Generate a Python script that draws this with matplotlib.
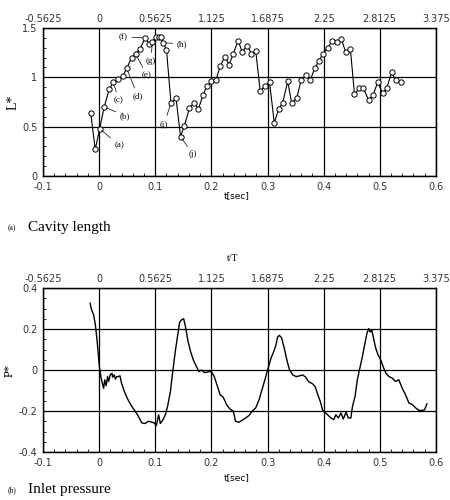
import numpy as np
import matplotlib
matplotlib.use('Agg')
import matplotlib.pyplot as plt
from matplotlib.ticker import MultipleLocator

# Cavity length L* (circles)
t_cav = [-0.015, -0.007, 0.001, 0.009, 0.018, 0.025, 0.034, 0.042, 0.049, 0.058,
         0.065, 0.073, 0.082, 0.089, 0.095, 0.101, 0.106, 0.110, 0.114, 0.120,
         0.128, 0.137, 0.145, 0.152, 0.161, 0.169, 0.177, 0.185, 0.192, 0.200,
         0.208, 0.2155, 0.224, 0.2315, 0.239, 0.2476, 0.255, 0.2637, 0.2714, 0.279,
         0.287, 0.295, 0.3036, 0.312, 0.320, 0.327, 0.336, 0.343, 0.352, 0.360,
         0.368, 0.376, 0.384, 0.392, 0.399, 0.407, 0.4155, 0.423, 0.4315, 0.439,
         0.4476, 0.455, 0.4637, 0.471, 0.480, 0.488, 0.4964, 0.505, 0.5125, 0.521,
         0.529, 0.537]
L_cav = [0.64, 0.27, 0.48, 0.70, 0.88, 0.95, 0.98, 1.01, 1.09, 1.20,
         1.24, 1.29, 1.40, 1.34, 1.36, 1.41, 1.41, 1.41, 1.35, 1.28,
         0.74, 0.79, 0.40, 0.51, 0.69, 0.74, 0.68, 0.82, 0.91, 0.96,
         0.97, 1.11, 1.21, 1.13, 1.24, 1.37, 1.26, 1.32, 1.24, 1.27,
         0.86, 0.91, 0.95, 0.54, 0.68, 0.74, 0.96, 0.74, 0.79, 0.97,
         1.02, 0.97, 1.09, 1.17, 1.24, 1.30, 1.37, 1.36, 1.39, 1.26,
         1.29, 0.83, 0.89, 0.89, 0.77, 0.82, 0.95, 0.84, 0.89, 1.05,
         0.97, 0.95]

# annotation labels: (label, index of point, text x, text y)
ann_labels = ['(a)', '(b)', '(c)', '(d)', '(e)', '(f)', '(g)', '(h)', '(i)', '(j)']
ann_index = [2, 3, 5, 8, 10, 12, 14, 18, 20, 22]
ann_tx = [0.036, 0.046, 0.035, 0.069, 0.085, 0.043, 0.092, 0.148, 0.116, 0.167]
ann_ty = [0.31, 0.61, 0.77, 0.81, 1.02, 1.41, 1.17, 1.34, 0.53, 0.22]

# Inlet pressure P*
t_p = [-0.016, -0.015, -0.013, -0.010, -0.007, -0.004, -0.001, 0.0006, 0.003, 0.005,
       0.008, 0.010, 0.0125, 0.015, 0.017, 0.0196, 0.023, 0.024, 0.027, 0.029,
       0.0315, 0.0345, 0.037, 0.040, 0.046, 0.052, 0.058, 0.064, 0.070, 0.076,
       0.082, 0.088, 0.094, 0.098, 0.102, 0.106, 0.109, 0.114, 0.118, 0.122,
       0.127, 0.1315, 0.136, 0.140, 0.1435, 0.147, 0.1506, 0.154, 0.158, 0.163,
       0.168, 0.174, 0.178, 0.182, 0.188, 0.196, 0.200, 0.205, 0.211, 0.2155,
       0.221, 0.227, 0.233, 0.239, 0.243, 0.249, 0.255, 0.261, 0.267, 0.273,
       0.279, 0.285, 0.291, 0.297, 0.301, 0.306, 0.311, 0.315, 0.318, 0.321,
       0.325, 0.330, 0.3345, 0.339, 0.345, 0.351, 0.3565, 0.3625, 0.368, 0.373,
       0.3805, 0.385, 0.389, 0.394, 0.398, 0.402, 0.407, 0.413, 0.418, 0.422,
       0.426, 0.431, 0.435, 0.440, 0.444, 0.4485, 0.4515, 0.456, 0.460, 0.465,
       0.469, 0.4735, 0.477, 0.480, 0.483, 0.486, 0.489, 0.493, 0.497, 0.502,
       0.5065, 0.511, 0.5165, 0.5225, 0.528, 0.534, 0.540, 0.546, 0.552, 0.558,
       0.564, 0.570, 0.576, 0.580, 0.584]
P_p = [0.326, 0.31, 0.29, 0.27, 0.226, 0.153, 0.065, 0.013, -0.032, -0.056,
       -0.089, -0.048, -0.077, -0.032, -0.056, -0.024, -0.016, -0.035, -0.024, -0.045,
       -0.032, -0.032, -0.028, -0.065, -0.113, -0.148, -0.177, -0.200, -0.226, -0.258,
       -0.261, -0.250, -0.255, -0.258, -0.271, -0.218, -0.261, -0.242, -0.218, -0.177,
       -0.105, 0.0, 0.097, 0.169, 0.234, 0.245, 0.250, 0.210, 0.145, 0.089,
       0.048, 0.013, -0.008, 0.0, -0.013, -0.008, -0.008, -0.032, -0.081, -0.121,
       -0.132, -0.169, -0.190, -0.200, -0.250, -0.255, -0.245, -0.234, -0.222, -0.200,
       -0.185, -0.145, -0.089, -0.032, 0.008, 0.056, 0.089, 0.121, 0.161, 0.169,
       0.158, 0.105, 0.048, 0.003, -0.024, -0.032, -0.029, -0.024, -0.035, -0.056,
       -0.068, -0.081, -0.116, -0.153, -0.194, -0.206, -0.218, -0.234, -0.242, -0.218,
       -0.234, -0.210, -0.239, -0.206, -0.234, -0.234, -0.177, -0.129, -0.048, 0.016,
       0.065, 0.129, 0.177, 0.202, 0.185, 0.194, 0.153, 0.105, 0.073, 0.048,
       0.013, -0.016, -0.032, -0.040, -0.056, -0.048, -0.089, -0.121, -0.161, -0.169,
       -0.185, -0.197, -0.197, -0.194, -0.165]

x_ticks = [-0.1, 0, 0.1, 0.2, 0.3, 0.4, 0.5, 0.6]
x_tick_labels = ['-0.1', '0', '0.1', '0.2', '0.3', '0.4', '0.5', '0.6']
tT_labels = ['-0.5625', '0', '0.5625', '1.125', '1.6875', '2.25', '2.8125', '3.375']

fig = plt.figure(figsize=(4.5, 5), dpi=100)
tick_font = dict(family='DejaVu Sans', size=7)
serif = 'Liberation Serif'


def setup(ax, ylim, yticks, ylabels, yminor):
    ax.set_xlim(-0.1, 0.6)
    ax.set_ylim(*ylim)
    ax.set_xticks(x_ticks)
    ax.set_xticklabels(x_tick_labels, **tick_font)
    ax.set_yticks(yticks)
    ax.set_yticklabels(ylabels, **tick_font)
    ax.xaxis.set_minor_locator(MultipleLocator(0.02))
    ax.yaxis.set_minor_locator(MultipleLocator(yminor))
    ax.tick_params(which='both', direction='in', length=0)
    ax.tick_params(which='minor', length=2.5, width=0.6)
    ax.tick_params(which='major', pad=4, colors='#333333')
    ax.grid(True, which='major', color='black', lw=0.9)
    for s in ax.spines.values():
        s.set_linewidth(1.0)
    top = ax.twiny()
    top.set_xlim(-0.1, 0.6)
    top.set_xticks(x_ticks)
    top.set_xticklabels(tT_labels, **tick_font)
    top.tick_params(length=0, pad=3, colors='#333333')
    return top


# (a) cavity length
ax1 = fig.add_axes([0.0956, 0.648, 0.873, 0.296])
setup(ax1, (0, 1.5), [0, 0.5, 1, 1.5], ['0', '0.5', '1', '1.5'], 0.1)
ax1.plot(t_cav, L_cav, '-o', color='black', lw=0.8, ms=3.8,
         mfc='white', mec='black', mew=0.7)
for lab, i, tx, ty in zip(ann_labels, ann_index, ann_tx, ann_ty):
    ax1.annotate(lab, xy=(t_cav[i], L_cav[i]), xytext=(tx, ty),
                 fontsize=6.5, family=serif, ha='center', va='center',
                 arrowprops=dict(arrowstyle='-', lw=0.5, color='black',
                                 shrinkA=1, shrinkB=2))
ax1.set_ylabel('L*', family=serif, fontsize=10, labelpad=2)
fig.text(0.527, 0.604, 't[sec]', fontsize=6.5, ha='center', family='DejaVu Sans')
fig.text(0.018, 0.544, '(a)', fontsize=5.5, family=serif, va='center')
fig.text(0.062, 0.544, 'Cavity length', fontsize=11, family=serif, va='center')

# (b) inlet pressure
ax2 = fig.add_axes([0.0956, 0.096, 0.873, 0.328])
setup(ax2, (-0.4, 0.4), [-0.4, -0.2, 0, 0.2, 0.4],
      ['-0.4', '-0.2', '0', '0.2', '0.4'], 0.05)
ax2.plot(t_p, P_p, '-', color='black', lw=1.0)
ax2.set_ylabel('P*', family=serif, fontsize=9, labelpad=2)
fig.text(0.518, 0.478, 't/T', fontsize=7, ha='center', family=serif)
fig.text(0.527, 0.040, 't[sec]', fontsize=6.5, ha='center', family='DejaVu Sans')
fig.text(0.018, 0.020, '(b)', fontsize=5.5, family=serif, va='center')
fig.text(0.062, 0.020, 'Inlet pressure', fontsize=11, family=serif, va='center')

fig.savefig('out.png', dpi=100)
